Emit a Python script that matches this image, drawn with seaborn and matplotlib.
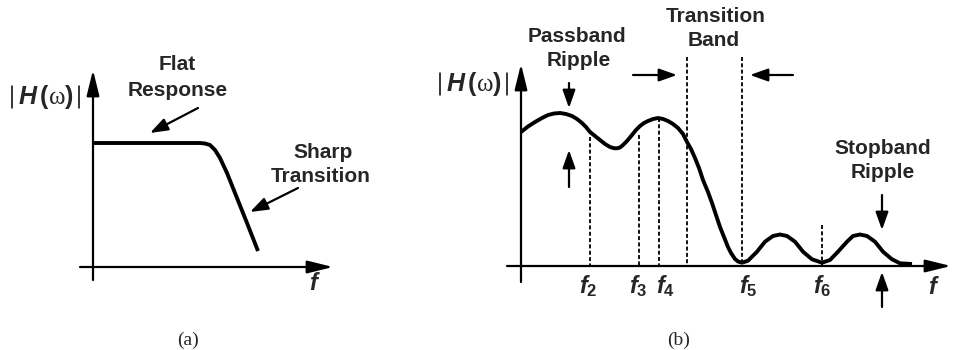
import numpy as np
import pandas as pd
import seaborn as sns
import matplotlib.pyplot as plt

# ==============================
# data (pixel units, y grows downward)
# ==============================
# (a) ideal-ish lowpass: flat then sharp roll-off
a_freq = [93, 140, 190, 200, 205, 210, 215, 220, 227, 237, 247, 258]
a_mag = [143, 143, 143, 143, 143.5, 145, 150, 158, 173, 198, 223, 251]

# (b) realistic lowpass with passband/stopband ripple
b_freq = [521, 528, 535, 542, 548, 554, 560, 566, 572, 577, 582, 586, 590, 595,
          600, 605, 610, 614, 617, 620, 623, 627, 632, 636, 640, 644, 648, 653,
          658, 663, 668, 673, 678, 683, 687, 691, 695, 699, 703, 708, 712, 716,
          720, 724, 728, 731, 735, 738, 742, 748, 757, 765, 773, 780, 787, 795,
          803, 812, 822, 830, 838, 847, 853, 860, 867, 875, 883, 892, 900, 912]
b_mag = [132, 126.5, 122, 118, 115, 113.5, 113, 114, 116, 119, 123, 127, 132,
         136, 140, 144, 147, 148.2, 148.3, 147.5, 145, 141, 135, 130, 126, 123,
         121, 119, 118, 119, 121, 124, 128, 134, 142, 149, 158, 168, 180, 192,
         203, 215, 227, 237, 247, 253, 259, 261.5, 262.7, 260.7, 251.7, 241.7,
         236, 234.5, 236, 241.7, 251.7, 259.3, 262.7, 260, 251.7, 241.7, 236,
         234.5, 236, 241.7, 251.7, 259.3, 263.3, 264]

# dashed markers in (b): x, top of line
mark_x = [590, 639, 659, 687, 742, 822]
mark_top = [137, 135, 118, 57, 57, 225]

freq_names = ["2", "3", "4", "5", "6"]
freq_label_x = [588, 638, 665, 748, 822]

plt.rcParams["mathtext.fontset"] = "custom"
sns.set_style("white")
plt.rcParams["mathtext.it"] = "Liberation Sans:italic:bold"
plt.rcParams["mathtext.sf"] = "Liberation Sans:bold"
plt.rcParams["mathtext.bf"] = "Liberation Sans:bold"
plt.rcParams["mathtext.rm"] = "Liberation Serif"

fig = plt.figure(figsize=(9.54, 3.5), dpi=100)
ax = fig.add_axes([0, 0, 1, 1])

BOLD = dict(family="Liberation Sans", weight="bold", fontsize=15,
            ha="center", va="center")


def arrow(tail, tip, hl=0.9, lw=1.6):
    ax.annotate("", xy=tip, xytext=tail,
                arrowprops=dict(arrowstyle=f"-|>,head_length={hl},head_width=0.32",
                                mutation_scale=12, lw=lw, color="black",
                                shrinkA=0, shrinkB=0))


# curves
df_a = pd.DataFrame({"f": a_freq, "H": a_mag})
df_b = pd.DataFrame({"f": b_freq, "H": b_mag})
for d in (df_a, df_b):
    sns.lineplot(data=d, x="f", y="H", sort=False, estimator=None,
                 color="black", lw=2.8, ax=ax,
                 solid_joinstyle="round", solid_capstyle="butt")
ax.set_xlim(0, 954)
ax.set_ylim(350, 0)
ax.axis("off")

# axes of both panels
arrow((93, 280), (93, 70), hl=1.3)
arrow((80, 267), (333, 267), hl=1.3)
arrow((521, 282), (521, 64), hl=1.3)
arrow((507, 266), (951, 266), hl=1.3)

# dashed guide lines
for x, top in zip(mark_x, mark_top):
    ax.plot([x, x], [top, 266], color="black", lw=1.3, ls=(0, (2.2, 1.3)))

# magnitude labels
hlabel = r"$\mathit{H}\,\mathsf{(}\mathrm{\omega}\mathsf{)}$"
for cx, cy in [(46, 97), (474, 84)]:
    ax.text(cx, cy, hlabel, fontsize=18, ha="center", va="center")
    ax.plot([cx - 34, cx - 34], [cy - 11, cy + 11], color="black", lw=1.1)
    ax.plot([cx + 33, cx + 33], [cy - 11, cy + 11], color="black", lw=1.1)

# frequency labels
ax.text(315, 283, r"$\mathit{f}$", fontsize=17, ha="center", va="center")
ax.text(934, 287, r"$\mathit{f}$", fontsize=17, ha="center", va="center")
for name, x in zip(freq_names, freq_label_x):
    ax.text(x, 286, r"$\mathit{f}_{\mathsf{" + name + "}}$", fontsize=17,
            ha="center", va="center")

# annotations panel (a)
ax.text(177, 65, "Flat", **BOLD)
ax.text(178, 90, "Response", **BOLD)
arrow((198, 108), (150, 133))
ax.text(323, 153, "Sharp", **BOLD)
ax.text(321, 177, "Transition", **BOLD)
arrow((298, 188), (250, 212))

# annotations panel (b)
ax.text(577, 37, "Passband", **BOLD)
ax.text(579, 60, "Ripple", **BOLD)
arrow((569, 83), (569, 108))
arrow((569, 187), (569, 150))
ax.text(716, 17, "Transition", **BOLD)
ax.text(714, 41, "Band", **BOLD)
arrow((633, 75), (677, 75))
arrow((793, 75), (750, 75))
ax.text(883, 148, "Stopband", **BOLD)
ax.text(883, 172, "Ripple", **BOLD)
arrow((882, 195), (882, 230))
arrow((882, 307), (882, 272))

# panel captions
ax.text(188, 340, "(a)", family="Liberation Serif", fontsize=14,
        ha="center", va="center")
ax.text(679, 340, "(b)", family="Liberation Serif", fontsize=14,
        ha="center", va="center")

fig.savefig("out.png", dpi=100)
